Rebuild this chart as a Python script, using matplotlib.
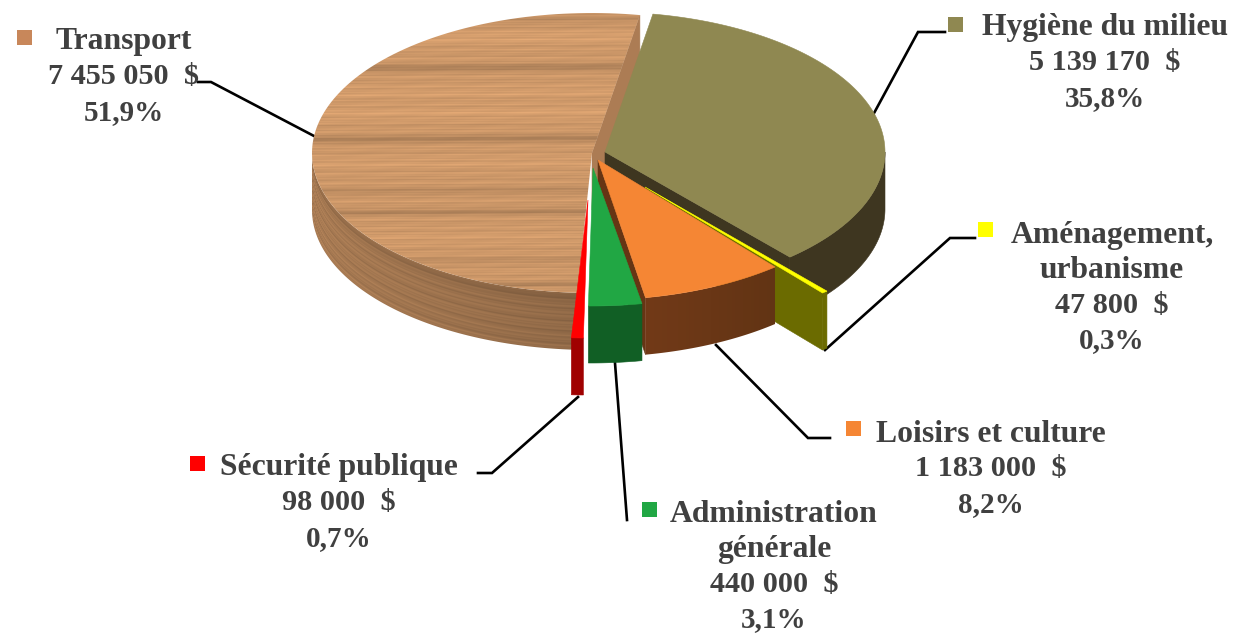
import numpy as np
import matplotlib
matplotlib.use("Agg")
import matplotlib.pyplot as plt
from matplotlib.patches import Polygon, Rectangle

# ---------- data ----------
categories = ["Hygiène du milieu", "Aménagement, urbanisme", "Loisirs et culture",
              "Administration générale", "Sécurité publique", "Transport"]
amounts = [5139170, 47800, 1183000, 440000, 98000, 7455050]
amount_labels = ["5 139 170  $", "47 800  $", "1 183 000  $", "440 000  $", "98 000  $", "7 455 050  $"]
pct_labels = ["35,8%", "0,3%", "8,2%", "3,1%", "0,7%", "51,9%"]

# ---------- layout / style ----------
W, H = 1239, 634
RX, RY, DEPTH = 280, 140, 57
START = 9.85
centers = [(605, 152), (642, 186), (594.5, 160), (591, 166), (586, 198), (592, 153)]
tips = [(605, 152), (645, 187), (598, 160), (593, 168), (588, 200), (592, 153)]
face_cols = ["#8F8851", "#FFFF00", "#F58634", "#21A744", "#FF0000", None]
wall_cols = ["#3E3620", "#6B6B00", "#663514", "#115F25", "#A00000", None]
name_lines = [["Hygiène du milieu"], ["Aménagement,", "urbanisme"], ["Loisirs et culture"],
              ["Administration", "générale"], ["Sécurité publique"], ["Transport"]]
label_pos = [(1105, 24.5), (1112, 231.5), (991, 430.5), (774, 510.5), (339, 464.5), (124, 38.5)]
marker_pos = [(948, 17), (978, 222), (846, 421), (642, 502), (190, 456), (17, 30)]
marker_cols = ["#8F8851", "#FFFF00", "#F58634", "#21A744", "#FF0000", "#C8875A"]
leaders = [[(945, 32), (918, 32), (873, 115)],
           [(975, 238), (950, 238), (825, 350)],
           [(830, 438), (808, 438), (716, 345)],
           [(627, 520), (615, 363)],
           [(478, 473), (492, 473), (578, 397)],
           [(198, 82), (211, 82), (314, 136)]]
TEXT = "#404040"
LINE_H = 35.5
FONT = "Liberation Serif"
NAME_SIZE, AMOUNT_SIZE, PCT_SIZE = 22.8, 21.8, 21

fig = plt.figure(figsize=(W / 100, H / 100), dpi=100)
ax = fig.add_axes([0, 0, 1, 1])
ax.set_axis_off()


def rim(t, c, dy=0.0):
    t = np.radians(t)
    return np.column_stack([c[0] + RX * np.sin(t), c[1] - RY * np.cos(t) + dy])


def face(a0, a1, c, tip):
    return np.vstack([[tip], rim(np.linspace(a0, a1, 120), c)])


def outer_wall(a0, a1, c):
    arc = np.linspace(a0, a1, 120)
    return np.vstack([rim(arc, c), rim(arc[::-1], c, DEPTH)])


def cut_wall(a, c, tip):
    p = rim(np.array([a]), c)[0]
    return np.array([tip, p, p + [0, DEPTH], [tip[0], tip[1] + DEPTH]])


angles = START + np.cumsum([0] + amounts) / sum(amounts) * 360.0
yy, xx = np.mgrid[0:H, 0:W].astype(float)


def streaks(v):
    return (0.026 * np.sin(v * 1.37) + 0.022 * np.sin(v * 2.41 + 1.0)
            + 0.020 * np.sin(v * 0.71 + 2.0) + 0.008 * np.sin(v * 3.9))


def wood_face():
    v = yy + 0.006 * xx
    s = 1.0 + streaks(v)
    for y0, d, w in [(22, .06, 5), (40, -.05, 6), (70, .17, 3), (95, -.04, 6), (115, -.05, 6),
                     (141, .17, 3), (165, -.04, 5), (193, .10, 3), (214, .14, 3),
                     (240, -.03, 6), (263, .07, 3), (287, .12, 3)]:
        s -= d * np.exp(-((v - y0) / w) ** 2)
    s *= 1 + 0.010 * np.sin(xx * 0.09 + yy * 0.6)
    return np.clip(np.dstack([205 * s, 152 * s, 105 * s]) / 255, 0, 1)


def wood_wall(c):
    n = np.clip((xx - c[0]) / RX, -1, 1)
    d = yy - (c[1] + RY * np.sqrt(1 - n ** 2))
    s = (0.95 - 0.14 * np.clip((xx - 312) / 265, 0, 1)) * (1 + 1.2 * streaks(d * 0.8))
    s *= 0.90 + 0.10 * np.clip(d / 14, 0, 1)
    return np.clip(np.dstack([178 * s, 130 * s, 88 * s]) / 255, 0, 1)


def clipped_image(img, verts, z):
    im = ax.imshow(img, extent=(0, W, H, 0), aspect="auto", zorder=z, interpolation="bilinear")
    p = Polygon(verts, closed=True, transform=ax.transData, fc="none", ec="none")
    ax.add_patch(p)
    im.set_clip_path(p)


def poly(v, col, z):
    ax.add_patch(Polygon(v, closed=True, fc=col, ec=col, lw=0.4, zorder=z))


# Transport (index 5, drawn furthest back)
c, t = centers[5], tips[5]
a0, a1 = angles[5], angles[6]
poly(cut_wall(a1, c, t), "#AC7C54", 1)
clipped_image(wood_wall(c), outer_wall(a0, 270, c), 1)
clipped_image(wood_face(), face(a0, a1, c, t), 2)

# Hygiène
c, t = centers[0], tips[0]
poly(outer_wall(90, angles[1], c), wall_cols[0], 3)
poly(cut_wall(angles[1], c, t), wall_cols[0], 3)
poly(face(angles[0], angles[1], c, t), face_cols[0], 4)

# Aménagement
c, t = centers[1], tips[1]
poly(cut_wall(angles[2], c, t), wall_cols[1], 5)
poly(outer_wall(angles[1], angles[2], c), wall_cols[1], 5)
poly(face(angles[1], angles[2], c, t), face_cols[1], 6)

# Loisirs: wall with a brown gradient
c, t = centers[2], tips[2]
poly(cut_wall(angles[3], c, t), wall_cols[2], 7)
grad = np.clip((xx - 645) / 130, 0, 1)[..., None]
grad_img = (np.array([114, 58, 24]) * (1 - grad) + np.array([98, 52, 20]) * grad) / 255
clipped_image(grad_img, outer_wall(angles[2], angles[3], c), 7)
poly(face(angles[2], angles[3], c, t), face_cols[2], 8)

# Administration, Sécurité
for i, z in [(3, 9), (4, 11)]:
    c, t = centers[i], tips[i]
    poly(outer_wall(angles[i], angles[i + 1], c), wall_cols[i], z)
    poly(face(angles[i], angles[i + 1], c, t), face_cols[i], z + 1)

# Leader lines
for pts in leaders:
    p = np.array(pts)
    ax.plot(p[:, 0], p[:, 1], color="black", lw=1.9, zorder=0.5, solid_joinstyle="miter")

# Labels
for i in range(len(categories)):
    x, y = label_pos[i]
    k = 0
    for s in name_lines[i]:
        ax.text(x, y + k * LINE_H, s, ha="center", va="center_baseline", color=TEXT,
                fontsize=NAME_SIZE, fontweight="bold", family=FONT, zorder=20)
        k += 1
    for s, size in [(amount_labels[i], AMOUNT_SIZE), (pct_labels[i], PCT_SIZE)]:
        ax.text(x, y + k * LINE_H, s, ha="center", va="center_baseline", color=TEXT,
                fontsize=size, fontweight="bold", family=FONT, zorder=20)
        k += 1
    mx, my = marker_pos[i]
    ax.add_patch(Rectangle((mx, my), 15, 15, fc=marker_cols[i], ec="none", zorder=20))

ax.set_xlim(0, W)
ax.set_ylim(H, 0)
fig.savefig("out.png", dpi=100, facecolor="white")
